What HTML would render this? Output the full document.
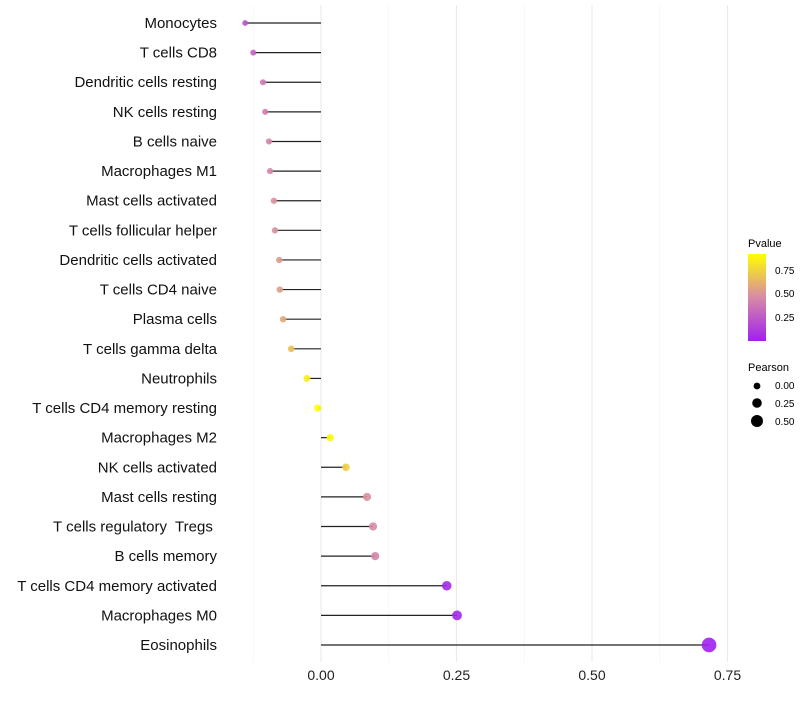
<!DOCTYPE html>
<html><head><meta charset="utf-8"><style>
body{margin:0;background:#fff;font-family:"Liberation Sans",sans-serif}
text{white-space:pre}
</style></head><body>
<svg id="c" width="800" height="700" xmlns="http://www.w3.org/2000/svg">
<defs><linearGradient id="g" x1="0" y1="1" x2="0" y2="0">
<stop offset="0" stop-color="#a020f0"/><stop offset="0.5" stop-color="#d78aa6"/><stop offset="1" stop-color="#ffff00"/></linearGradient></defs>
<g id="grid"></g><g id="marks"></g><g id="labels"></g>
<g font-size="10">
<text x="748" y="247" font-size="11">Pvalue</text>
<rect x="748" y="254" width="18" height="87" fill="url(#g)"/>
<text x="775" y="274">0.75</text><text x="775" y="297">0.50</text><text x="775" y="321">0.25</text>
<text x="748" y="371" font-size="11">Pearson</text>
<circle cx="757" cy="386" r="3.4"/><text x="775" y="389">0.00</text>
<circle cx="757" cy="403" r="4.8"/><text x="775" y="407">0.25</text>
<circle cx="757" cy="421" r="6"/><text x="775" y="425">0.50</text>
</g>
</svg>
<script>
const categories=["Monocytes","T cells CD8","Dendritic cells resting","NK cells resting","B cells naive","Macrophages M1","Mast cells activated","T cells follicular helper","Dendritic cells activated","T cells CD4 naive","Plasma cells","T cells gamma delta","Neutrophils","T cells CD4 memory resting","Macrophages M2","NK cells activated","Mast cells resting","T cells regulatory  Tregs ","B cells memory","T cells CD4 memory activated","Macrophages M0","Eosinophils"];
const pearson=[-0.140,-0.125,-0.107,-0.103,-0.096,-0.094,-0.087,-0.085,-0.077,-0.076,-0.070,-0.055,-0.026,-0.006,0.017,0.046,0.085,0.096,0.100,0.232,0.251,0.716];
const pvalue=[0.22,0.3,0.4,0.42,0.45,0.46,0.5,0.5,0.55,0.56,0.6,0.7,0.88,0.97,0.92,0.75,0.5,0.47,0.45,0.04,0.03,0.0];
const ticks=[0,0.25,0.5,0.75];
const tickLabels=["0.00","0.25","0.50","0.75"];
const NS="http://www.w3.org/2000/svg";
const x=v=>321+v*542;
const y=i=>23+i*(622/21);
function mk(p,t,a){const e=document.createElementNS(NS,t);for(const k in a)e.setAttribute(k,a[k]);p.appendChild(e);return e;}
function lerp(a,b,t){return a.map((v,i)=>Math.round(v+(b[i]-v)*t));}
function col(p){const lo=[160,32,240],mid=[215,138,166],hi=[255,255,0];const t=Math.max(0,Math.min(1,p/0.95));
const c=t<0.5?lerp(lo,mid,t*2):lerp(mid,hi,(t-0.5)*2);return`rgb(${c})`;}
const grid=document.getElementById('grid'),marks=document.getElementById('marks'),labels=document.getElementById('labels');
[-0.125,0.125,0.375,0.625].concat(ticks).forEach(v=>{const l=mk(grid,'line',{x1:x(v),x2:x(v),y1:5,y2:662,stroke:ticks.includes(v)?'#ebebeb':'#f3f3f3','stroke-width':ticks.includes(v)?1.2:0.8});

});
ticks.forEach((v,i)=>{const t=mk(labels,'text',{x:x(v),y:680,'text-anchor':'middle','font-size':14,fill:'#222'});t.textContent=tickLabels[i];

});
categories.forEach((c,i)=>{
const t=mk(labels,'text',{x:217,y:y(i)+5,'text-anchor':'end','font-size':15,fill:'#111'});t.textContent=c;


const l=mk(marks,'line',{x1:x(0),x2:x(pearson[i]),y1:y(i),y2:y(i),stroke:'#222','stroke-width':1.2});


const r=Math.max(1.5,3.6+5.2*pearson[i]);
const d=mk(marks,'circle',{cx:x(pearson[i]),cy:y(i),r:r,fill:col(pvalue[i]),'fill-opacity':0.9});


});
</script>
</body></html>
